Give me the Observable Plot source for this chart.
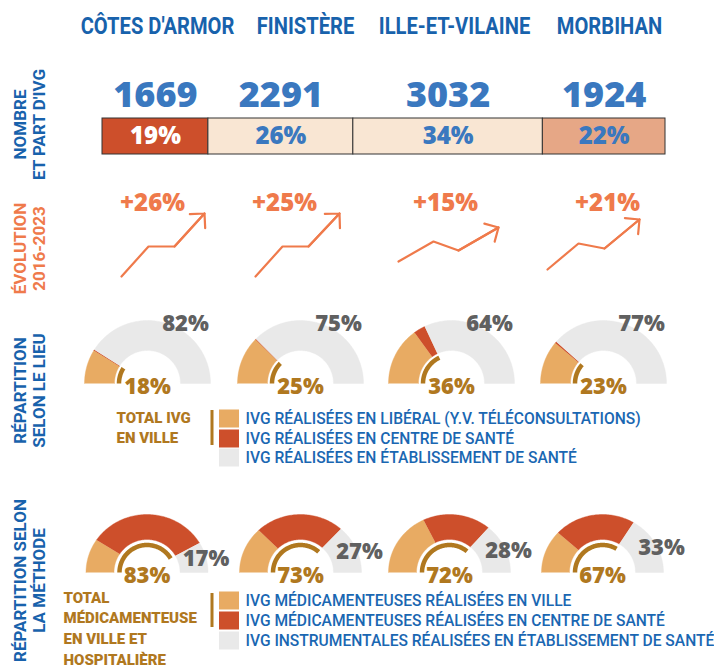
<!DOCTYPE html>
<html><head><meta charset="utf-8">
<script src="https://cdn.jsdelivr.net/npm/d3@7"></script>
<script src="https://cdn.jsdelivr.net/npm/@observablehq/plot@0.6"></script>
<style>body{margin:0;background:#fff}</style>
</head><body><div id="chart"></div>
<script>
// ---------- DATA ----------
const departements = ["CÔTES D'ARMOR", "FINISTÈRE", "ILLE-ET-VILAINE", "MORBIHAN"];
const nombreIVG = [1669, 2291, 3032, 1924];
const partIVG = [19, 26, 34, 22];
const evolution = [26, 25, 15, 21];
// stylised trend pictogram per department (step, level)
const evoStep = [[0, 27, 53, 83], [0, 27, 53, 84], [0, 35, 60, 100], [0, 31, 57, 92]];
const evoLevel = [[0, 30, 30, 63], [0, 30, 30, 63], [0, 20, 11, 34], [0, 26, 21, 50]];
// répartition selon le lieu (%)
const lieuLiberal = [17.5, 24.6, 30, 22.2];
const lieuCentre = [0.5, 0.4, 6, 0.8];
const lieuEtablissement = [82, 75, 64, 77];
const lieuTotalVille = [18, 25, 36, 23];
// répartition selon la méthode (%)
const methodeVille = [19, 26, 36, 24];
const methodeCentre = [64, 47, 36, 43];
const methodeInstrumentale = [17, 27, 28, 33];
const methodeTotal = [83, 73, 72, 67];
// texts
const rowLabels = ["NOMBRE\nET PART D'IVG", "ÉVOLUTION\n2016-2023", "RÉPARTITION\nSELON LE LIEU", "RÉPARTITION SELON\nLA MÉTHODE"];
const totalLieuLabel = "TOTAL IVG\nEN VILLE";
const totalMethodeLabel = "TOTAL\nMÉDICAMENTEUSE\nEN VILLE ET\nHOSPITALIÈRE";
const legendeLieu = ["IVG RÉALISÉES EN LIBÉRAL (Y.V. TÉLÉCONSULTATIONS)", "IVG RÉALISÉES EN CENTRE DE SANTÉ", "IVG RÉALISÉES EN ÉTABLISSEMENT DE SANTÉ"];
const legendeMethode = ["IVG MÉDICAMENTEUSES RÉALISÉES EN VILLE", "IVG MÉDICAMENTEUSES RÉALISÉES EN CENTRE DE SANTÉ", "IVG INSTRUMENTALES RÉALISÉES EN ÉTABLISSEMENT DE SANTÉ"];

// ---------- STYLE / LAYOUT ----------
const C = {blue: "#1862ac", num: "#3a78bf", legend: "#1a67b2", gold: "#b0781f", grayText: "#606060",
  tan: "#e8ab63", red: "#cd4f2b", light: "#e9e9e9", orange: "#ef7a4b"};
const partFill = ["#cd4f2b", "#f9e6d3", "#f9e6d3", "#e6a786"];
const partText = ["#ffffff", "#3a78bf", "#3a78bf", "#3a78bf"];
const segColors = [C.tan, C.red, C.light];
const Lay = {
  titleX: [157, 305, 454, 609], titleY: 26,
  barX0: 102, barX1: 665, barY0: 118, barY1: 154, numY: 95,
  evoTextX: [152, 284, 445, 607], evoTextY: 203,
  evoOrigin: [[121, 276], [255, 276], [398, 261], [547, 269]],
  lieuCx: [147, 300, 451, 603], lieuBase: 383, lieuRo: 63, lieuRi: 33, lieuGold: 28.5,
  methCx: [146.5, 300, 449, 602], methBase: 572, methRx: 61, methRy: 58, methRi: 33, methGold: 27.5,
  rowLabelX: 29, rowLabelY: [124, 248, 390, 580],
  legX: 219, legW: 20, legH: 18, legTextX: 245,
  legLieuY: [418.5, 438.5, 457.5], legMethY: [600.5, 620.5, 640.5]
};
const FONT = "Roboto, 'Noto Sans', sans-serif";
const NUMFONT = "'Open Sans', Lato, sans-serif";

// ---------- DERIVED GEOMETRY ----------
const kPart = (Lay.barX1 - Lay.barX0) / d3.sum(partIVG);
const cumPart = d3.cumsum(partIVG);
const barData = departements.map((d, i) => {
  const x1 = Lay.barX0 + (cumPart[i] - partIVG[i]) * kPart, x2 = Lay.barX0 + cumPart[i] * kPart;
  return {d, x1, x2, xm: (x1 + x2) / 2, nombre: nombreIVG[i], part: partIVG[i] + "%", fill: partFill[i], tf: partText[i]};
});

function ringPts(key, color, cx, by, rx, ry, ri, f0, f1) {
  const pts = [], n = Math.max(2, Math.ceil((f1 - f0) * 1.5));
  for (let j = 0; j <= n; j++) { const t = Math.PI * (1 - (f0 + (f1 - f0) * j / n) / 100);
    pts.push({key, color, x: cx + rx * Math.cos(t), y: by - ry * Math.sin(t)}); }
  for (let j = n; j >= 0; j--) { const t = Math.PI * (1 - (f0 + (f1 - f0) * j / n) / 100);
    pts.push({key, color, x: cx + ri * Math.cos(t), y: by - ri * Math.sin(t)}); }
  return pts;
}
function arcPts(key, cx, by, r, f1) {
  const pts = [], n = Math.ceil(f1 * 1.5);
  for (let j = 0; j <= n; j++) { const t = Math.PI * (1 - f1 * j / n / 100);
    pts.push({key, x: cx + r * Math.cos(t), y: by - r * Math.sin(t)}); }
  return pts;
}
let rings = [], golds = [], pctLabels = [];
departements.forEach((d, i) => {
  const lv = [lieuLiberal[i], lieuCentre[i], lieuEtablissement[i]];
  let c = 0;
  lv.forEach((v, s) => { rings.push(...ringPts("l" + i + s, segColors[s], Lay.lieuCx[i], Lay.lieuBase, Lay.lieuRo, Lay.lieuRo, Lay.lieuRi, c, Math.min(100, c + v))); c += v; });
  golds.push(...arcPts("gl" + i, Lay.lieuCx[i], Lay.lieuBase, Lay.lieuGold, lieuTotalVille[i]));
  pctLabels.push({x: Lay.lieuCx[i] + 38, y: 323, t: lieuEtablissement[i] + "%", c: C.grayText});
  pctLabels.push({x: Lay.lieuCx[i], y: Lay.lieuBase + 3, t: lieuTotalVille[i] + "%", c: C.gold});
  const mv = [methodeVille[i], methodeCentre[i], methodeInstrumentale[i]];
  c = 0;
  mv.forEach((v, s) => { rings.push(...ringPts("m" + i + s, segColors[s], Lay.methCx[i], Lay.methBase, Lay.methRx, Lay.methRy, Lay.methRi, c, Math.min(100, c + v))); c += v; });
  golds.push(...arcPts("gm" + i, Lay.methCx[i], Lay.methBase, Lay.methGold, methodeTotal[i]));
  const mid = Math.PI * methodeInstrumentale[i] / 200;
  pctLabels.push({x: Lay.methCx[i] + 59, y: Lay.methBase - 50 * Math.sin(mid), t: methodeInstrumentale[i] + "%", c: C.grayText});
  pctLabels.push({x: Lay.methCx[i], y: Lay.methBase + 3, t: methodeTotal[i] + "%", c: C.gold});
});

const evoLines = [], evoArrows = [];
departements.forEach((d, i) => {
  const [ox, oy] = Lay.evoOrigin[i];
  const P = evoStep[i].map((s, j) => ({key: i, x: ox + s, y: oy - evoLevel[i][j]}));
  evoLines.push(...P);
  evoArrows.push({x1: P[2].x, y1: P[2].y, x2: P[3].x, y2: P[3].y});
});

const legendSquares = [
  ...segColors.map((c, s) => ({c, y: Lay.legLieuY[s]})),
  ...segColors.map((c, s) => ({c, y: Lay.legMethY[s]}))
];
const legendTexts = [
  ...legendeLieu.map((t, s) => ({t, y: Lay.legLieuY[s]})),
  ...legendeMethode.map((t, s) => ({t, y: Lay.legMethY[s]}))
];
const rowColors = [C.blue, C.orange, C.blue, C.blue];

const plot = Plot.plot({
  width: 714, height: 668, margin: 0,
  x: {domain: [0, 714], range: [0, 714], axis: null},
  y: {domain: [0, 668], range: [0, 668], axis: null},
  color: {type: "identity"},
  style: {background: "#fff", fontFamily: FONT},
  marks: [
    Plot.text(departements, {x: (d, i) => Lay.titleX[i], y: () => Lay.titleY, text: d => d, fontSize: 24, fontWeight: 700,
      fill: C.blue, fontFamily: FONT, textAnchor: "middle", lineAnchor: "middle"}),
    Plot.text(rowLabels, {x: () => Lay.rowLabelX, y: (d, i) => Lay.rowLabelY[i], text: d => d, rotate: -90,
      fill: (d, i) => rowColors[i], fontSize: 17, fontWeight: 700, lineHeight: 1.12, textAnchor: "middle", lineAnchor: "middle", fontFamily: FONT}),
    Plot.text(barData, {x: "xm", y: () => Lay.numY, text: d => String(d.nombre), fontSize: 36, fontWeight: 800,
      fill: C.num, fontFamily: NUMFONT, textAnchor: "middle", lineAnchor: "middle"}),
    Plot.rect(barData, {x1: "x1", x2: "x2", y1: () => Lay.barY0, y2: () => Lay.barY1, fill: "fill", stroke: "#333", strokeWidth: 1}),
    Plot.text(barData, {x: "xm", y: () => (Lay.barY0 + Lay.barY1) / 2, text: "part", fill: "tf", fontSize: 24, fontWeight: 800,
      fontFamily: NUMFONT, textAnchor: "middle", lineAnchor: "middle"}),
    Plot.text(evolution, {x: (d, i) => Lay.evoTextX[i], y: () => Lay.evoTextY, text: d => "+" + d + "%", fill: C.orange,
      fontSize: 24, fontWeight: 800, fontFamily: NUMFONT, textAnchor: "middle", lineAnchor: "middle"}),
    Plot.line(evoLines, {x: "x", y: "y", z: "key", stroke: C.orange, strokeWidth: 2.2, strokeLinejoin: "miter"}),
    Plot.arrow(evoArrows, {x1: "x1", y1: "y1", x2: "x2", y2: "y2", stroke: C.orange, strokeWidth: 2.2, headAngle: 90, headLength: 10}),
    Plot.line(rings, {x: "x", y: "y", z: "key", fill: "color", stroke: "color", strokeWidth: 0.4}),
    Plot.line(golds, {x: "x", y: "y", z: "key", stroke: C.gold, strokeWidth: 4.5, strokeLinecap: "butt"}),
    Plot.text(pctLabels, {x: "x", y: "y", text: "t", fill: "c", fontSize: 22, fontWeight: 800, fontFamily: NUMFONT,
      textAnchor: "middle", lineAnchor: "middle"}),
    Plot.text([totalLieuLabel], {x: () => 116, y: () => 408.5, text: d => d,
      fill: C.gold, fontSize: 15, fontWeight: 900, lineHeight: 1.33, textAnchor: "start", lineAnchor: "top", fontFamily: FONT}),
    Plot.text([totalMethodeLabel], {x: () => 63, y: () => 587.5, text: d => d,
      fill: C.gold, fontSize: 15, fontWeight: 900, lineHeight: 1.38, textAnchor: "start", lineAnchor: "top", fontFamily: FONT}),
    Plot.rect([0, 1], {x1: () => 210.5, x2: () => 213.5, y1: d => d ? 593 : 410, y2: d => d ? 627 : 445, fill: C.gold}),
    Plot.rect(legendSquares, {x1: () => Lay.legX, x2: () => Lay.legX + Lay.legW, y1: d => d.y - Lay.legH / 2, y2: d => d.y + Lay.legH / 2, fill: "c"}),
    Plot.text(legendTexts, {x: () => Lay.legTextX, y: "y", text: "t", fill: C.legend, fontSize: 15.6, fontWeight: 500,
      textAnchor: "start", lineAnchor: "middle", fontFamily: FONT})
  ]
});
// condense the department titles (narrow typeface in the original)
d3.select(plot).selectAll("text").filter(function () { return departements.includes(this.textContent); }).each(function () {
  const t = this.getAttribute("transform");
  if (t) this.setAttribute("transform", t + " scale(0.84,1)");
});
document.getElementById("chart").appendChild(plot);
</script>
</body></html>
